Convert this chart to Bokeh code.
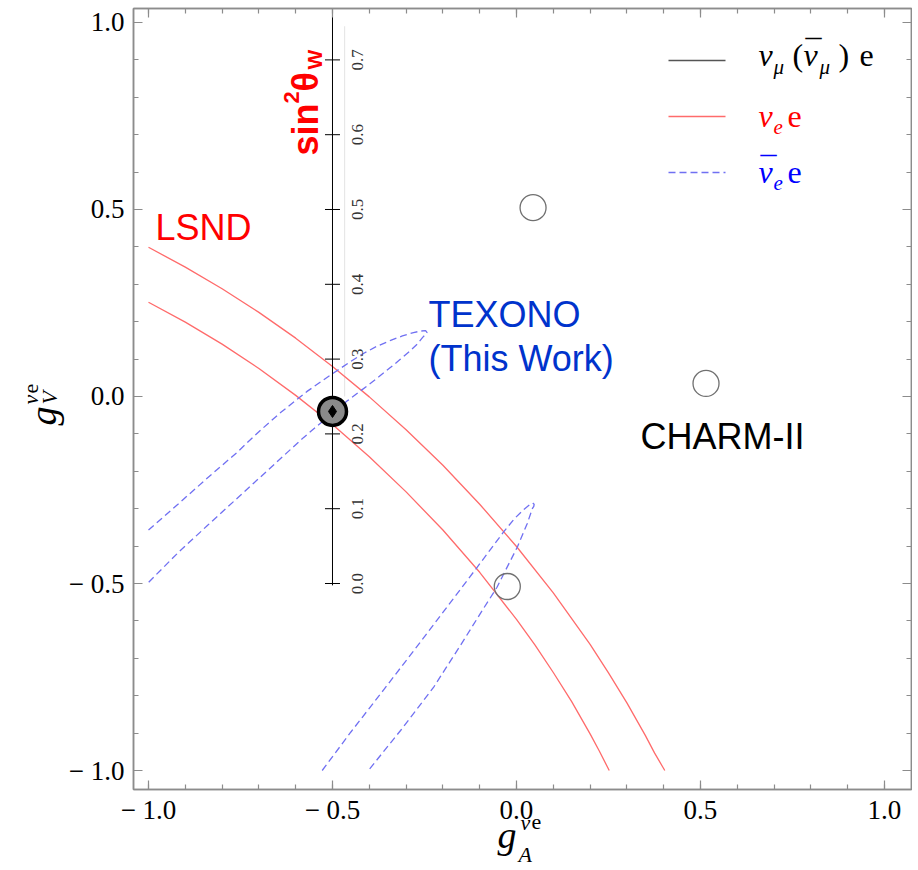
from math import pi
from bokeh.plotting import figure
from bokeh.models import (Range1d, LinearAxis, FixedTicker, CustomJSTickFormatter,
                          ColumnDataSource, GridBox)
from bokeh.embed import file_html
from bokeh.resources import INLINE
from bokeh.core.properties import value

# ---------------- data ----------------
# LSND nu_e e band (two red curves)
lsnd_outer_ga = [-1.0, -0.9, -0.8, -0.7, -0.6, -0.5, -0.4, -0.3, -0.2, -0.1, 0.0, 0.1, 0.2, 0.25, 0.3, 0.35, 0.375, 0.403]
lsnd_outer_gv = [0.399, 0.346, 0.288, 0.225, 0.156, 0.080, -0.001, -0.089, -0.184, -0.288, -0.401, -0.525, -0.663, -0.739, -0.819, -0.906, -0.953, -1.0]
lsnd_inner_ga = [-1.0, -0.9, -0.8, -0.7, -0.6, -0.5, -0.4, -0.3, -0.2, -0.1, 0.0, 0.05, 0.1, 0.15, 0.2, 0.225, 0.252]
lsnd_inner_gv = [0.252, 0.199, 0.140, 0.075, 0.003, -0.075, -0.161, -0.255, -0.357, -0.470, -0.596, -0.664, -0.738, -0.816, -0.902, -0.948, -1.0]

# TEXONO anti-nu_e e contours (blue dashed)
texono_upper_ga = [-1.0, -0.92, -0.84, -0.76, -0.70, -0.641, -0.57, -0.5, -0.45, -0.416, -0.38, -0.342, -0.31, -0.28, -0.26, -0.247,
                   -0.243, -0.248, -0.255, -0.27, -0.288, -0.315, -0.342, -0.375, -0.405, -0.459, -0.5, -0.524, -0.579,
                   -0.66, -0.75, -0.84, -0.92, -1.0]
texono_upper_gv = [-0.357, -0.288, -0.218, -0.150, -0.094, -0.043, 0.013, 0.061, 0.094, 0.115, 0.134, 0.150, 0.162, 0.171, 0.175, 0.176,
                   0.171, 0.165, 0.158, 0.140, 0.123, 0.100, 0.078, 0.052, 0.029, -0.011, -0.045, -0.064, -0.110,
                   -0.183, -0.264, -0.345, -0.418, -0.497]
texono_lower_ga = [-0.528, -0.45, -0.36, -0.26, -0.152, -0.111, -0.07, -0.035, -0.005, 0.02, 0.035, 0.044, 0.048,
                   0.047, 0.043, 0.029, 0.002, -0.053, -0.093, -0.152, -0.225, -0.315, -0.401]
texono_lower_gv = [-1.0, -0.897, -0.783, -0.655, -0.515, -0.462, -0.408, -0.362, -0.326, -0.302, -0.290, -0.285, -0.288,
                   -0.294, -0.300, -0.340, -0.403, -0.510, -0.572, -0.665, -0.777, -0.893, -0.998]

# CHARM-II nu_mu e solutions
charm_ga = [0.045, 0.515, -0.025]
charm_gv = [0.505, 0.035, -0.508]
best_ga = [-0.5]
best_gv = [-0.04]

# sin^2 theta_W scale drawn along g_A = -1/2
sin2w_ticks = [0.0, 0.1, 0.2, 0.3, 0.4, 0.5, 0.6, 0.7]
sin2w_labels = ["0.0", "0.1", "0.2", "0.3", "0.4", "0.5", "0.6", "0.7"]
sin2w_gv = [-0.5 + 2.0 * s for s in sin2w_ticks]

major_ticks = [-1.0, -0.5, 0.0, 0.5, 1.0]
minor_ticks = [round(-1.0 + 0.1 * i, 1) for i in range(21)]

# ---------------- main figure ----------------
W, H = 912, 866
FRAME = "#8c8c8c"
RED = "#ff6b6b"
BLUE = "#7070f2"

p = figure(width=W, height=H, x_range=Range1d(-1.04076, 1.07337), y_range=Range1d(-1.0508, 1.03743),
           output_backend="svg", toolbar_location=None, x_axis_location=None, y_axis_location=None,
           min_border_left=133, min_border_right=1, min_border_top=8, min_border_bottom=77,
           frame_align=False)
p.grid.visible = False
p.outline_line_color = FRAME
p.outline_line_width = 1.5
p.background_fill_color = "white"
p.border_fill_color = "white"

fmt = CustomJSTickFormatter(code="return (tick < 0 ? '\u2212 ' : '') + Math.abs(tick).toFixed(1);")

bottom, left, top, right = LinearAxis(), LinearAxis(), LinearAxis(), LinearAxis()
p.add_layout(bottom, "below")
p.add_layout(left, "left")
p.add_layout(top, "above")
p.add_layout(right, "right")

for ax in [bottom, left, top, right]:
    ax.ticker = FixedTicker(ticks=major_ticks, minor_ticks=minor_ticks)
    ax.major_tick_in = 9
    ax.major_tick_out = 0
    ax.minor_tick_in = 5
    ax.minor_tick_out = 0
    ax.major_tick_line_color = FRAME
    ax.minor_tick_line_color = FRAME
    ax.major_tick_line_width = 1.2
    ax.minor_tick_line_width = 1.2
    ax.axis_line_color = FRAME
    ax.axis_line_width = 1.5
    ax.formatter = fmt
    ax.major_label_text_font = "Liberation Serif"
    ax.major_label_text_font_size = "27px"
    ax.major_label_text_color = "black"

for ax in [top, right]:
    ax.major_label_text_font_size = "0px"
    ax.major_label_standoff = 0

bottom.major_label_standoff = 5
left.major_label_standoff = 9

# faint guide line next to the sin^2 scale
p.segment(x0=[-0.467], y0=[0.0], x1=[-0.467], y1=[0.99], line_color="#e4e4e4", line_width=1)

# LSND band
p.line(lsnd_outer_ga, lsnd_outer_gv, line_color=RED, line_width=1.3)
p.line(lsnd_inner_ga, lsnd_inner_gv, line_color=RED, line_width=1.3)

# TEXONO contours
p.line(texono_upper_ga, texono_upper_gv, line_color=BLUE, line_width=1.3, line_dash="7 4")
p.line(texono_lower_ga, texono_lower_gv, line_color=BLUE, line_width=1.3, line_dash="7 4")

# sin^2 theta_W scale
p.segment(x0=[-0.5], y0=[-0.505], x1=[-0.5], y1=[1.03743], line_color="black", line_width=1)
sin_src = ColumnDataSource(dict(x=[-0.5] * len(sin2w_gv), y=sin2w_gv, lx=[-0.432] * len(sin2w_gv), t=sin2w_labels))
p.scatter("x", "y", source=sin_src, marker="dash", size=15, line_color="black", line_width=1)
p.text("lx", "y", text="t", source=sin_src, angle=pi / 2, text_align="center", text_baseline="middle",
       text_font=value("Liberation Serif"), text_font_size="17px", text_color="#333333")

# CHARM-II points
p.scatter(charm_ga, charm_gv, marker="circle", size=26, fill_color=None, line_color="#707070", line_width=1.3)
p.scatter(best_ga, best_gv, marker="circle", size=28, fill_color="#8a8a8a", line_color="black", line_width=3.5)
p.scatter(best_ga, best_gv, marker="diamond", size=12, fill_color="black", line_color="black")

# ---------------- transparent overlay for texts (page pixel coordinates) ----------------
ov = figure(width=W, height=H, x_range=Range1d(0, W), y_range=Range1d(0, H),
            output_backend="svg", toolbar_location=None, x_axis_location=None, y_axis_location=None,
            min_border=0, min_border_left=0, min_border_right=0, min_border_top=0, min_border_bottom=0,
            frame_align=False)
ov.grid.visible = False
ov.outline_line_color = None
ov.background_fill_color = None
ov.border_fill_color = None


def T(x, y, text, size, color="black", font="Liberation Serif", style="normal", angle=0.0):
    # y is the wanted baseline (page px); horizontal texts are drawn ~0.38em lower than their anchor
    if angle == 0.0:
        y = y - 0.38 * size
    ov.text(x=[x], y=[H - y], text=[text], angle=angle, text_font=value(font),
            text_font_size=f"{size}px", text_font_style=style, text_color=color,
            text_align="left", text_baseline="alphabetic")


def L(x0, x1, y, color, dash="solid"):
    ov.line([x0, x1], [H - y, H - y], line_color=color, line_width=1.3, line_dash=dash)


# legend keys
L(668, 725, 60, "#555555")
L(668, 725, 116, RED)
L(668, 725, 172, BLUE, "7 4")

# legend texts
T(758, 67, "ν", 32, style="italic")
T(773, 74, "μ", 21, style="italic")
T(792, 67, "(", 32)
T(803, 67, "ν", 32, style="italic")
T(805, 63, "¯", 32)
T(819, 74, "μ", 21, style="italic")
T(838, 67, ")", 32)
T(859, 67, "e", 32)

T(758, 128, "ν", 32, color="#ff0000", style="italic")
T(773, 134, "e", 21, color="#ff0000", style="italic")
T(787, 128, "e", 32, color="#ff0000")

T(758, 184, "ν", 32, color="#0000ff", style="italic")
T(760, 180, "¯", 32, color="#0000ff")
T(773, 190, "e", 21, color="#0000ff", style="italic")
T(787, 184, "e", 32, color="#0000ff")

# annotations
SANS = "Liberation Sans"
T(155, 241, "LSND", 36, color="#ff0000", font=SANS)
T(428, 328, "TEXONO", 36, color="#0033cc", font=SANS)
T(428, 372, "(This Work)", 36, color="#0033cc", font=SANS)
T(640, 450, "CHARM-II", 36, color="black", font=SANS)

# sin^2 theta_W (rotated, reading upwards)
T(305, 155, "sin", 36, color="#ff0000", font=SANS, style="bold", angle=pi / 2)
T(291, 103, "2", 22, color="#ff0000", font=SANS, style="bold", angle=pi / 2)
T(305, 91, "θ", 36, color="#ff0000", font=SANS, style="bold", angle=pi / 2)
T(314, 69, "W", 21, color="#ff0000", font=SANS, style="bold", angle=pi / 2)

# axis titles
T(497, 849, "g", 38, style="italic")
T(520, 830, "ν", 22, style="italic")
T(531, 830, "e", 22)
T(518, 862, "A", 22, style="italic")

T(42, 425, "g", 38, style="italic", angle=pi / 2)
T(30, 404, "ν", 22, style="italic", angle=pi / 2)
T(30, 393, "e", 22, angle=pi / 2)
T(49, 404, "V", 22, style="italic", angle=pi / 2)

layout = GridBox(children=[(p, 0, 0), (ov, 0, 0)])

open("out.html", "w").write(file_html(layout, INLINE))
